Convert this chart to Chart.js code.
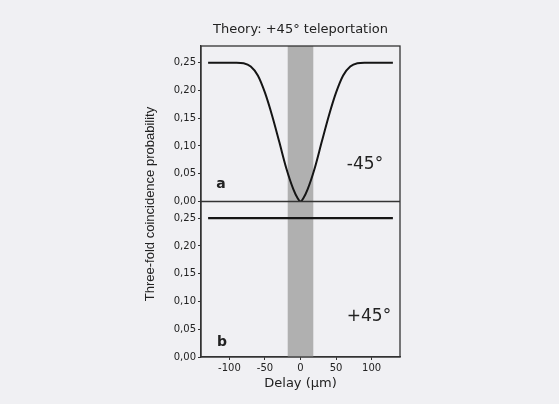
<!DOCTYPE html>
<html>
<head>
<meta charset="utf-8">
<script src="https://cdn.jsdelivr.net/npm/chart.js@4.4.0/dist/chart.umd.min.js"></script>
<style>
  html, body { margin: 0; padding: 0; background: #f0f0f3; }
  #wrap { width: 559px; height: 404px; position: relative; }
</style>
</head>
<body>
<div id="wrap"><canvas id="chart" width="559" height="404"></canvas></div>
<script>
// panel a (-45°): dip
const delayA = [-130, -100, -90, -80, -70, -60, -50, -40, -30, -20, -10, -4, 0, 4, 10, 20, 30, 40, 50, 60, 70, 80, 90, 100, 130];
const probA = [0.25, 0.25, 0.25, 0.249, 0.243, 0.227, 0.196, 0.155, 0.108, 0.06, 0.022, 0.006, 0.0, 0.006, 0.022, 0.06, 0.108, 0.155, 0.196, 0.227, 0.243, 0.249, 0.25, 0.25, 0.25];
// panel b (+45°): flat
const delayB = [-130, 130];
const probB = [0.25, 0.25];
// shaded overlap region
const bandRange = [-18, 18];
const xTicks = [-100, -50, 0, 50, 100];
const yTicks = [0, 0.05, 0.10, 0.15, 0.20, 0.25];

const TXT = '#222';
const FONT = 'DejaVu Sans';

function pts(xs, ys) {
    return xs.map((x, i) => ({ x: x, y: ys[i] }));
}

const extras = {
    id: 'extras',
    beforeDatasetsDraw(chart) {
        const { ctx, chartArea, scales } = chart;
        const x0 = scales.x.getPixelForValue(bandRange[0]);
        const x1 = scales.x.getPixelForValue(bandRange[1]);
        ctx.save();
        ctx.fillStyle = '#b0b0b0';
        ctx.fillRect(x0, chartArea.top, x1 - x0, chartArea.bottom - chartArea.top);
        ctx.restore();
    },
    afterDatasetsDraw(chart) {
        const { ctx, chartArea, scales } = chart;
        ctx.save();
        ctx.strokeStyle = '#333';
        ctx.lineWidth = 1.3;
        ctx.strokeRect(chartArea.left, chartArea.top, chartArea.right - chartArea.left, chartArea.bottom - chartArea.top);
        const yMid = scales.ya.getPixelForValue(0);
        ctx.lineWidth = 1.5;
        ctx.beginPath();
        ctx.moveTo(chartArea.left, yMid);
        ctx.lineTo(chartArea.right, yMid);
        ctx.stroke();

        ctx.fillStyle = TXT;
        ctx.textAlign = 'center';
        ctx.textBaseline = 'middle';
        ctx.font = '13px "' + FONT + '"';
        ctx.fillText('Theory: +45\u00b0 teleportation', (chartArea.left + chartArea.right) / 2, 30);

        ctx.save();
        ctx.translate(150, 204);
        ctx.rotate(-Math.PI / 2);
        ctx.font = '13px "Liberation Sans"';
        ctx.fillText('Three-fold coincidence probability', 0, 0);
        ctx.restore();

        ctx.font = 'bold 14px "' + FONT + '"';
        ctx.fillText('a', chartArea.left + 20, yMid - 17);
        ctx.fillText('b', chartArea.left + 21, chartArea.bottom - 15);
        ctx.font = '17px "' + FONT + '"';
        ctx.fillText('-45\u00b0', chartArea.left + 164, yMid - 37);
        ctx.fillText('+45\u00b0', chartArea.left + 168, chartArea.bottom - 40);
        ctx.restore();
    }
};

function yAxis(order) {
    return {
        type: 'linear',
        position: 'left',
        stack: 'panels',
        stackWeight: 1,
        weight: order,
        min: 0,
        max: 0.28,
        afterBuildTicks: s => { s.ticks = yTicks.map(v => ({ value: v })); },
        afterFit: s => { s.width = 201; },
        grid: { drawOnChartArea: false, tickLength: 3, color: '#333' },
        border: { color: '#333', width: 1.3 },
        ticks: {
            color: TXT,
            padding: 2,
            font: { family: FONT, size: 10 },
            callback: v => v.toFixed(2).replace('.', ',')
        }
    };
}

new Chart(document.getElementById('chart'), {
    type: 'line',
    data: {
        datasets: [
            {
                label: '-45',
                data: pts(delayA, probA),
                yAxisID: 'ya',
                borderColor: '#151515',
                borderWidth: 2,
                pointRadius: 0,
                cubicInterpolationMode: 'monotone',
                fill: false
            },
            {
                label: '+45',
                data: pts(delayB, probB),
                yAxisID: 'yb',
                borderColor: '#151515',
                borderWidth: 2.4,
                pointRadius: 0,
                fill: false
            }
        ]
    },
    options: {
        responsive: false,
        animation: false,
        layout: { padding: { top: 46, right: 159, left: 0, bottom: 0 } },
        plugins: {
            legend: { display: false },
            tooltip: { enabled: false }
        },
        scales: {
            x: {
                type: 'linear',
                min: -140,
                max: 140,
                afterBuildTicks: s => { s.ticks = xTicks.map(v => ({ value: v })); },
                afterFit: s => { s.height = 47; },
                grid: { drawOnChartArea: false, tickLength: 3, color: '#333' },
                border: { color: '#333', width: 1.3 },
                ticks: {
                    color: TXT,
                    padding: 2,
                    font: { family: FONT, size: 10 }
                },
                title: {
                    display: true,
                    text: 'Delay (\u03bcm)',
                    color: TXT,
                    font: { family: FONT, size: 13 },
                    padding: { top: 0, bottom: 13 }
                }
            },
            yb: yAxis(1),
            ya: yAxis(2)
        }
    },
    plugins: [extras]
});
</script>
</body>
</html>
